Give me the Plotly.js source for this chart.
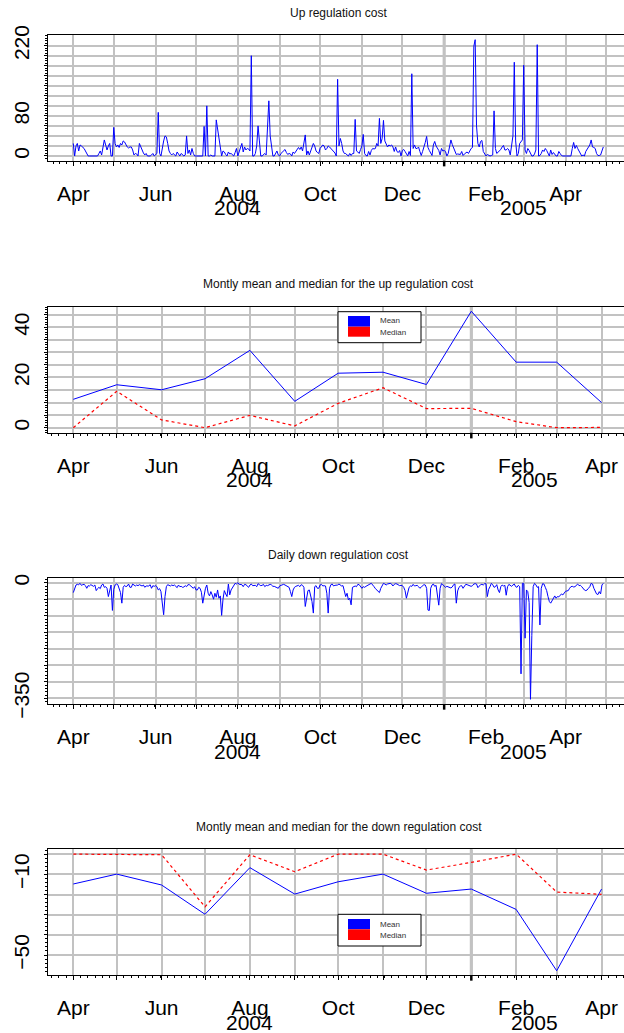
<!DOCTYPE html>
<html><head><meta charset="utf-8">
<script src="https://cdn.plot.ly/plotly-3.0.1.min.js"></script>
<style>html,body{margin:0;padding:0;background:#fff}</style>
</head><body><div id="chart" style="width:624px;height:1033px"></div>
<script>
// ---------------- DATA ----------------
const dailyStart = '2004-04-01';
const upDaily = [25,0,20,25,10,22,20,18,15,10,
5,0,0,0,0,0,0,0,0,5,
10,2,15,32,22,12,20,25,0,0,
57,25,18,22,17,25,22,30,28,22,
18,16,18,18,12,2,5,4,0,25,
19,10,6,2,5,0,0,0,2,5,
0,2,5,87,5,0,20,30,40,38,
25,10,5,2,5,2,0,8,5,0,
5,2,0,2,40,5,12,2,15,5,
0,0,0,0,0,0,0,59,0,100,
0,0,2,0,0,0,72,55,35,20,
0,10,8,3,0,8,4,5,2,0,
7,15,0,10,20,25,8,18,12,15,
14,10,200,0,0,5,20,60,30,0,
0,3,5,2,52,110,40,15,0,0,
5,10,2,0,5,8,10,13,7,3,
5,4,0,8,5,10,14,17,13,18,
10,30,42,2,10,2,10,20,25,20,
10,7,5,15,18,22,20,12,15,20,
18,15,12,10,6,0,153,20,35,25,
10,5,5,2,0,5,1,5,5,73,
10,8,5,13,20,43,5,1,0,9,
2,11,15,14,15,25,20,75,25,35,
71,30,25,18,22,20,22,18,9,18,
9,7,11,0,11,13,9,4,0,9,
1,164,15,22,15,15,18,9,1,9,
17,27,39,17,11,5,1,22,29,20,
15,11,2,15,10,11,9,0,5,18,
32,23,15,9,3,4,4,3,9,1,
4,7,8,5,12,15,17,219,232,60,
25,18,29,31,9,3,0,3,2,0,
1,2,90,15,5,8,9,13,18,21,
12,12,15,12,2,20,40,187,30,0,
5,25,29,32,181,12,5,15,11,5,
0,0,4,12,222,0,1,5,12,9,
15,11,5,0,12,3,7,2,0,0,
9,5,1,0,0,0,0,0,0,0,
15,27,15,21,15,9,4,0,2,0,
9,13,17,22,32,18,17,15,5,1,
1,2,10,18];
const downDaily = [-30,-19,-7,-5,-6,-2,-8,-6,-5,-9,
-17,-9,-10,-6,-10,-11,-7,-24,-18,-14,
-18,-7,-4,-14,-12,-17,-42,-24,-7,-84,
-20,-7,-4,-6,-17,-30,-62,-14,-8,-12,
-10,-4,-14,-14,-4,-8,-10,-7,-9,-6,
-9,-10,-7,-14,-10,-9,-10,-6,-17,-9,
-11,-9,-12,-22,-18,-27,-62,-97,-42,-12,
-6,-8,-10,-7,-9,-7,-12,-15,-7,-12,
-11,-14,-13,-9,-12,-6,-6,-10,-13,-17,
-12,-22,-22,-14,-17,-29,-62,-35,-17,-7,
-32,-40,-27,-37,-50,-32,-44,-22,-47,-40,
-99,-50,-24,-34,-42,-4,-37,-22,-14,-7,
-2,-4,0,-5,-6,-6,-12,-5,-6,-12,
-14,-7,-4,-9,-9,-8,-12,-3,-6,-9,
-8,-5,-12,-8,-9,-6,-5,-7,-11,-11,
-12,-15,-17,-10,-8,-7,-5,-7,-9,-11,
-14,-27,-42,-22,-14,-11,-9,-8,-12,-6,
-8,-14,-72,-40,-24,-22,-40,-57,-92,-12,
-9,-17,-17,-7,-5,-10,-9,-10,-32,-92,
-17,-6,-4,-10,-8,-8,-7,-4,-7,-10,
-9,-22,-42,-32,-52,-47,-67,-14,-12,-10,
-12,-5,-6,-12,-17,-12,-14,-11,-8,-6,
-4,-2,-6,-12,-18,-22,-26,-30,-17,-7,
-2,-4,-7,-4,-2,-2,-4,-10,-5,-3,
-4,-7,-9,-8,-9,-14,-24,-47,-27,-14,
-10,-11,-5,-10,-9,-8,-12,-17,-13,-9,
-6,-7,-17,-83,-84,-17,-7,-4,-11,-8,
-40,-68,-17,-3,-6,-12,-14,-11,-12,-14,
-16,-13,-6,-4,-62,-25,-14,-10,-9,-17,
-9,-5,-6,-8,-10,-11,-9,-4,-3,-4,
-15,-10,-6,-5,-7,-3,-3,-42,-20,-12,
-2,-6,-14,-12,-6,-22,-30,-12,-7,-10,
-8,-38,-12,-5,-8,-11,-7,-4,-12,-14,
-8,-12,-276,-2,-2,-168,-22,-27,-60,-353,
-160,-12,-2,-6,-14,-12,-128,-17,-3,-4,
-14,-24,-42,-57,-62,-54,-47,-40,-47,-42,
-43,-38,-34,-37,-31,-26,-25,-24,-17,-12,
-11,-13,-12,-7,-4,-9,-8,-12,-18,-22,
-24,-22,-17,-12,-2,-4,-17,-27,-34,-36,
-27,-34,-7,-2];

const months = ['2004-04-01','2004-05-01','2004-06-01','2004-07-01','2004-08-01','2004-09-01',
  '2004-10-01','2004-11-01','2004-12-01','2005-01-01','2005-02-01','2005-03-01','2005-04-01'];
const upMean   = [11.3,17.1,15.1,19.5,30.8,10.5,21.7,22.1,17.2,46.4,26.1,26.1,10.0];
const upMedian = [0,14.5,3.1,0,4.9,0.7,9.7,15.9,7.6,7.7,2.4,0,0.1];
const downMean   = [-14.8,-9.9,-15.3,-29.8,-6.7,-19.8,-13.7,-9.9,-19.4,-17.3,-27.4,-57.8,-17.3];
const downMedian = [0,0,-0.3,-26.1,-0.3,-8.7,0,0,-7.9,-4.1,0,-18.8,-19.9];

const dailyTickVals = months.concat(['2005-05-01']);
const dailyTickText = ['Apr','','Jun','','Aug','','Oct','','Dec','','Feb','','Apr',''];
const monthTickVals = months;
const monthTickText = ['Apr','','Jun','','Aug','','Oct','','Dec','','Feb','','Apr'];

const y1Vals = [0,20,40,60,80,100,120,140,160,180,200,220];
const y1Text = ['0','','','','80','','','','','','','220'];
const y2Vals = [0,5,10,15,20,25,30,35,40,45];
const y2Text = ['0','','','','20','','','','40',''];
const y3Vals = [0,-50,-100,-150,-200,-250,-300,-350];
const y3Text = ['0','','','','','','','\u2212350'];
const y4Vals = [0,-10,-20,-30,-40,-50];
const y4Text = ['','\u221210','','','','\u221250'];

const titles = ['Up regulation cost','Montly mean and median for the up regulation cost',
  'Daily down regulation cost','Montly mean and median for the down regulation cost'];
const legendNames = ['Mean','Median'];
const yearLabels = ['2004','2005'];

// ---------------- BUILD ----------------
function dayStr(i){
  const p = dailyStart.split('-').map(Number);
  const d = new Date(Date.UTC(p[0],p[1]-1,p[2]+i));
  return d.toISOString().slice(0,10);
}
const dailyDates = upDaily.map((_,i)=>dayStr(i));
const downDates = downDaily.map((_,i)=>dayStr(i));

const W=624, H=1033;
const FONT='Liberation Sans, Arial, Helvetica, sans-serif';
const GRID='#c2c2c2';
const px = v=>v/W, py = v=>1-v/H;

const panels = [
  {top:35, bot:160.7, xr:['2004-03-13 00:29','2005-05-14 08:24'], tv:dailyTickVals, tt:dailyTickText,
   yr:[-9.4,241.3], yv:y1Vals, yt:y1Text, ydt:5, title:13, yearX:['2004-08-01','2005-03-01']},
  {top:306.7, bot:432.7, xr:['2004-03-14 07:12','2005-04-16 12:00'], tv:monthTickVals, tt:monthTickText,
   yr:[-2.0,48.2], yv:y2Vals, yt:y2Text, ydt:1, title:284, yearX:['2004-08-01','2005-02-14']},
  {top:578.3, bot:704, xr:['2004-03-13 00:29','2005-05-14 08:24'], tv:dailyTickVals, tt:dailyTickText,
   yr:[-367.2,13.3], yv:y3Vals, yt:y3Text, ydt:10, title:555, yearX:['2004-08-01','2005-03-01']},
  {top:849.3, bot:975, xr:['2004-03-14 07:12','2005-04-16 12:00'], tv:monthTickVals, tt:monthTickText,
   yr:[-59.9,2.4], yv:y4Vals, yt:y4Text, ydt:2, title:826.5, yearX:['2004-08-01','2005-02-14']}
];

const traces = [
  {x:dailyDates, y:upDaily, xaxis:'x', yaxis:'y', type:'scatter', mode:'lines', line:{color:'#0000ff', width:1}},
  {x:months, y:upMean, xaxis:'x2', yaxis:'y2', type:'scatter', mode:'lines', line:{color:'#0000ff', width:1}},
  {x:months, y:upMedian, xaxis:'x2', yaxis:'y2', type:'scatter', mode:'lines', line:{color:'#ff0000', width:1.2, dash:'dot'}},
  {x:downDates, y:downDaily, xaxis:'x3', yaxis:'y3', type:'scatter', mode:'lines', line:{color:'#0000ff', width:1}},
  {x:months, y:downMean, xaxis:'x4', yaxis:'y4', type:'scatter', mode:'lines', line:{color:'#0000ff', width:1}},
  {x:months, y:downMedian, xaxis:'x4', yaxis:'y4', type:'scatter', mode:'lines', line:{color:'#ff0000', width:1.2, dash:'dot'}}
];

const layout = {width:W, height:H, margin:{l:0,r:0,t:0,b:0}, showlegend:false,
  paper_bgcolor:'#fff', plot_bgcolor:'#fff', font:{family:FONT, color:'#000'},
  shapes:[], annotations:[]};

panels.forEach((p,k)=>{
  const n = k+1, xs = n===1?'':String(n);
  layout['xaxis'+xs] = {domain:[px(47.7),1], anchor:'y'+xs, type:'date', range:p.xr,
    tickmode:'array', tickvals:p.tv, ticktext:p.tt, ticks:'outside', ticklen:4, tickwidth:1, tickcolor:'#000',
    showline:true, linecolor:'#000', linewidth:1, mirror:true, showgrid:true, gridcolor:GRID, gridwidth:2,
    zeroline:false, tickfont:{size:21, family:FONT, color:'#000'}, ticklabelstandoff:10,
    minor:{tickmode:'linear', tick0:'2004-04-01', dtick:5*86400000, ticks:'outside', ticklen:2, tickcolor:'#000', showgrid:false}};
  layout['yaxis'+xs] = {domain:[py(p.bot), py(p.top)], anchor:'x'+xs, range:p.yr,
    tickmode:'array', tickvals:p.yv, ticktext:p.yt, tickangle:-90, ticks:'outside', ticklen:3, tickwidth:1, tickcolor:'#000',
    showline:true, linecolor:'#000', linewidth:1, showgrid:true, gridcolor:GRID, gridwidth:2, zeroline:false,
    tickfont:{size:21, family:FONT, color:'#000'}, ticklabelstandoff:6,
    minor:{tickmode:'linear', tick0:0, dtick:p.ydt, ticks:'outside', ticklen:2, tickcolor:'#000', showgrid:false}};
  // year boundary: heavier gridline and tick
  layout.shapes.push({type:'line', xref:'x'+xs, yref:'y'+xs+' domain', x0:'2005-01-01', x1:'2005-01-01', y0:0, y1:1,
    line:{color:'#b8b8b8', width:3}, layer:'below'});
  layout.shapes.push({type:'line', xref:'x'+xs, yref:'y'+xs+' domain', x0:'2005-01-01', x1:'2005-01-01', y0:0, y1:-0.045,
    line:{color:'#000', width:2.5}});
  // title
  layout.annotations.push({text:titles[k], xref:'paper', yref:'paper', x:px(338.6), y:py(p.title),
    xanchor:'center', yanchor:'middle', showarrow:false, font:{size:12, family:FONT, color:'#111'}});
  // year labels
  yearLabels.forEach((yl,j)=>{
    layout.annotations.push({text:yl, xref:'x'+xs, yref:'y'+xs+' domain', x:p.yearX[j], y:0,
      yanchor:'middle', xanchor:'center', yshift:-47, showarrow:false, font:{size:21, family:FONT, color:'#000'}});
  });
});

// legends (panels 2 and 4)
[{box:[338,421,311.7,342.7], b:[316,326.7], r:[326.7,336.7], tm:321, td:332},
 {box:[338,421,914.3,946], b:[919,929.3], r:[929.3,940], tm:924.3, td:935.3}].forEach(L=>{
  layout.shapes.push({type:'rect', xref:'paper', yref:'paper', x0:px(L.box[0]), x1:px(L.box[1]), y0:py(L.box[3]), y1:py(L.box[2]),
    line:{color:'#000', width:1}, fillcolor:'#fff'});
  layout.shapes.push({type:'rect', xref:'paper', yref:'paper', x0:px(348), x1:px(370), y0:py(L.b[1]), y1:py(L.b[0]),
    line:{width:0}, fillcolor:'#0000ff'});
  layout.shapes.push({type:'rect', xref:'paper', yref:'paper', x0:px(348), x1:px(370), y0:py(L.r[1]), y1:py(L.r[0]),
    line:{width:0}, fillcolor:'#ff0000'});
  layout.annotations.push({text:legendNames[0], xref:'paper', yref:'paper', x:px(378), y:py(L.tm), xanchor:'left', yanchor:'middle',
    showarrow:false, font:{size:8, family:FONT, color:'#333'}});
  layout.annotations.push({text:legendNames[1], xref:'paper', yref:'paper', x:px(378), y:py(L.td), xanchor:'left', yanchor:'middle',
    showarrow:false, font:{size:8, family:FONT, color:'#333'}});
});

Plotly.newPlot('chart', traces, layout, {staticPlot:true, displayModeBar:false});
</script>
</body></html>
